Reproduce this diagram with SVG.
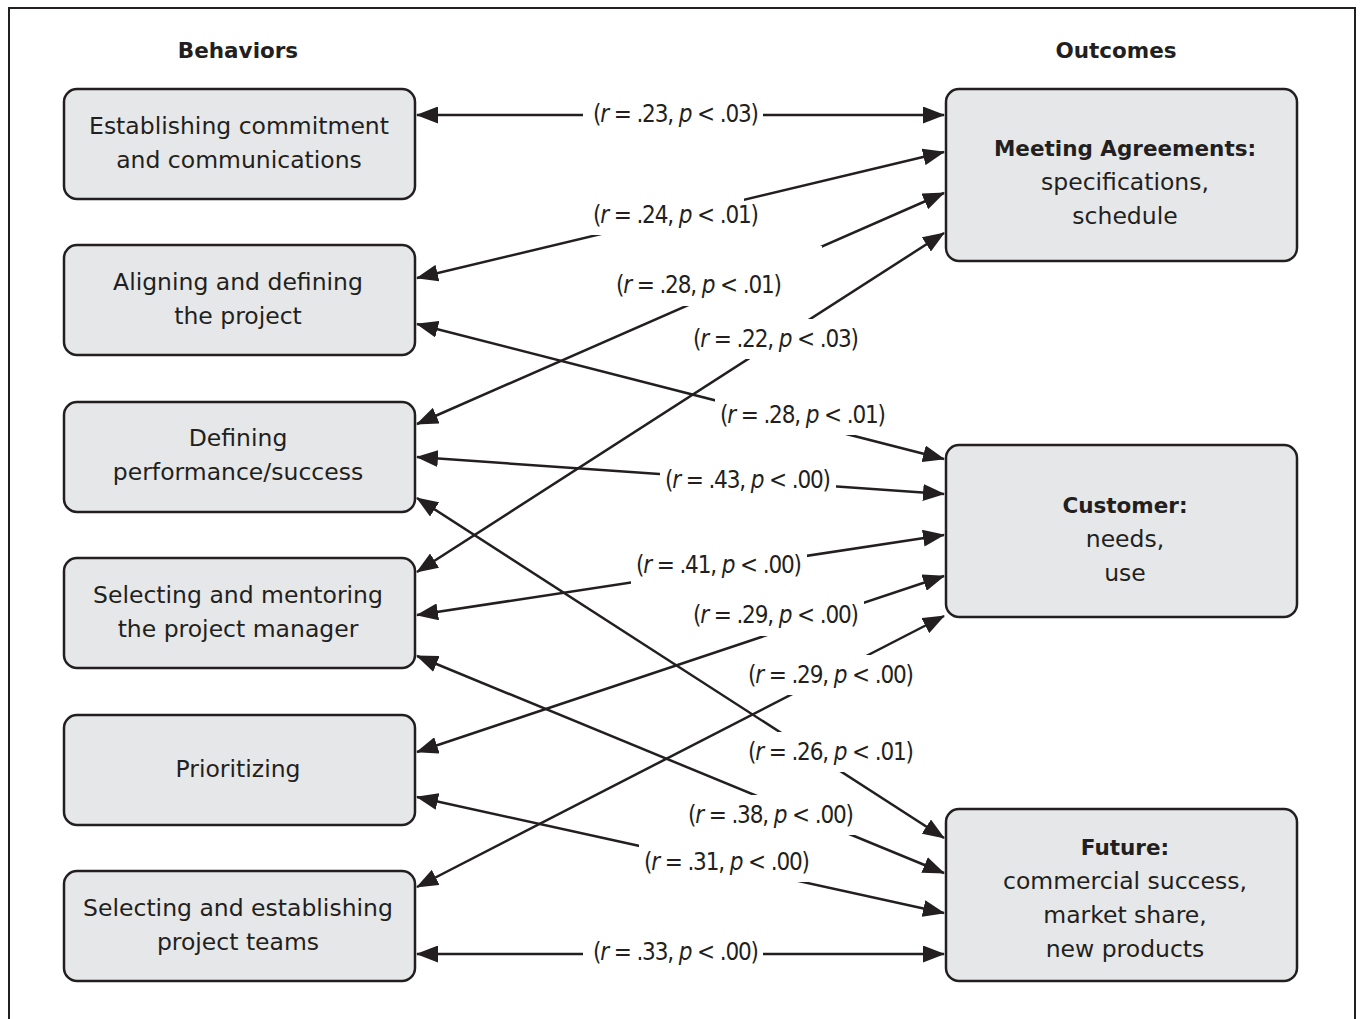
<svg xmlns="http://www.w3.org/2000/svg" width="1363" height="1019" viewBox="0 0 1363 1019">
<style>
.frame{fill:none;stroke:#231f20;stroke-width:2}
.box{fill:#e6e7e8;stroke:#231f20;stroke-width:2.5}
.t{font-family:"DejaVu Sans","Liberation Sans",sans-serif;font-size:23.5px;fill:#231f20;text-anchor:middle}
.b{font-family:"DejaVu Sans","Liberation Sans",sans-serif;font-size:21.5px;font-weight:bold;fill:#231f20;text-anchor:middle}
.c{stroke:#231f20;stroke-width:2.5;fill:none;marker-start:url(#ah);marker-end:url(#ah)}
.gap{fill:#ffffff}
.lab{font-family:"Liberation Sans Narrow","Arial Narrow","DejaVu Sans Condensed",sans-serif;font-stretch:condensed;font-size:24px;fill:#231f20;text-anchor:middle}
.i{font-style:italic}
</style>
<defs>
<marker id="ah" viewBox="0 0 22 17" refX="21" refY="8.5" markerWidth="22" markerHeight="17" markerUnits="userSpaceOnUse" orient="auto-start-reverse">
<path d="M0,0 L22,8.5 L0,17 z" fill="#231f20"/>
</marker>
</defs>
<rect width="1363" height="1019" fill="#ffffff"/>
<rect class="frame" x="9" y="8" width="1346" height="1030"/>
<text class="b" x="238" y="58">Behaviors</text>
<text class="b" x="1116" y="58">Outcomes</text>

<g id="connectors">
<line class="c" x1="417" y1="115" x2="944" y2="115"/>
<line class="c" x1="417" y1="278" x2="944" y2="152"/>
<line class="c" x1="417" y1="424" x2="944" y2="193"/>
<line class="c" x1="417" y1="572" x2="944" y2="233"/>
<line class="c" x1="417" y1="324" x2="944" y2="459"/>
<line class="c" x1="417" y1="457" x2="944" y2="494"/>
<line class="c" x1="417" y1="615" x2="944" y2="535"/>
<line class="c" x1="417" y1="752" x2="944" y2="576"/>
<line class="c" x1="417" y1="887" x2="944" y2="616"/>
<line class="c" x1="417" y1="498" x2="944" y2="838"/>
<line class="c" x1="417" y1="656" x2="944" y2="873"/>
<line class="c" x1="417" y1="797" x2="944" y2="913"/>
<line class="c" x1="417" y1="954" x2="944" y2="954"/>
<rect class="gap" x="583" y="94" width="180" height="40"/>
<rect class="gap" x="588" y="195" width="156" height="40"/>
<rect class="gap" x="611" y="246" width="211" height="60"/>
<rect class="gap" x="688" y="319" width="176" height="40"/>
<rect class="gap" x="715" y="395" width="176" height="40"/>
<rect class="gap" x="660" y="460" width="176" height="40"/>
<rect class="gap" x="631" y="545" width="176" height="40"/>
<rect class="gap" x="688" y="596" width="176" height="40"/>
<rect class="gap" x="743" y="655" width="176" height="40"/>
<rect class="gap" x="743" y="732" width="176" height="40"/>
<rect class="gap" x="683" y="795" width="176" height="40"/>
<rect class="gap" x="639" y="842" width="176" height="40"/>
<rect class="gap" x="583" y="932" width="180" height="40"/>
<text class="lab" x="676" y="122" textLength="166">(<tspan class="i">r</tspan> = .23, <tspan class="i">p</tspan> &lt; .03)</text>
<text class="lab" x="676" y="223" textLength="166">(<tspan class="i">r</tspan> = .24, <tspan class="i">p</tspan> &lt; .01)</text>
<text class="lab" x="699" y="293" textLength="166">(<tspan class="i">r</tspan> = .28, <tspan class="i">p</tspan> &lt; .01)</text>
<text class="lab" x="776" y="347" textLength="166">(<tspan class="i">r</tspan> = .22, <tspan class="i">p</tspan> &lt; .03)</text>
<text class="lab" x="803" y="423" textLength="166">(<tspan class="i">r</tspan> = .28, <tspan class="i">p</tspan> &lt; .01)</text>
<text class="lab" x="748" y="488" textLength="166">(<tspan class="i">r</tspan> = .43, <tspan class="i">p</tspan> &lt; .00)</text>
<text class="lab" x="719" y="573" textLength="166">(<tspan class="i">r</tspan> = .41, <tspan class="i">p</tspan> &lt; .00)</text>
<text class="lab" x="776" y="623" textLength="166">(<tspan class="i">r</tspan> = .29, <tspan class="i">p</tspan> &lt; .00)</text>
<text class="lab" x="831" y="683" textLength="166">(<tspan class="i">r</tspan> = .29, <tspan class="i">p</tspan> &lt; .00)</text>
<text class="lab" x="831" y="760" textLength="166">(<tspan class="i">r</tspan> = .26, <tspan class="i">p</tspan> &lt; .01)</text>
<text class="lab" x="771" y="823" textLength="166">(<tspan class="i">r</tspan> = .38, <tspan class="i">p</tspan> &lt; .00)</text>
<text class="lab" x="727" y="870" textLength="166">(<tspan class="i">r</tspan> = .31, <tspan class="i">p</tspan> &lt; .00)</text>
<text class="lab" x="676" y="960" textLength="166">(<tspan class="i">r</tspan> = .33, <tspan class="i">p</tspan> &lt; .00)</text>
</g>

<g id="b1"><rect class="box" x="64" y="89" width="351" height="110" rx="13"/>
<text class="t" x="239" y="134">Establishing commitment</text><text class="t" x="239" y="168">and communications</text></g>
<g id="b2"><rect class="box" x="64" y="245" width="351" height="110" rx="13"/>
<text class="t" x="238" y="290">Aligning and defining</text><text class="t" x="238" y="324">the project</text></g>
<g id="b3"><rect class="box" x="64" y="402" width="351" height="110" rx="13"/>
<text class="t" x="238" y="446">Defining</text><text class="t" x="238" y="480">performance/success</text></g>
<g id="b4"><rect class="box" x="64" y="558" width="351" height="110" rx="13"/>
<text class="t" x="238" y="603">Selecting and mentoring</text><text class="t" x="238" y="637">the project manager</text></g>
<g id="b5"><rect class="box" x="64" y="715" width="351" height="110" rx="13"/>
<text class="t" x="238" y="777">Prioritizing</text></g>
<g id="b6"><rect class="box" x="64" y="871" width="351" height="110" rx="13"/>
<text class="t" x="238" y="916">Selecting and establishing</text><text class="t" x="238" y="950">project teams</text></g>

<g id="o1"><rect class="box" x="946" y="89" width="351" height="172" rx="13"/>
<text class="b" x="1125" y="156">Meeting Agreements:</text><text class="t" x="1125" y="190">specifications,</text><text class="t" x="1125" y="224">schedule</text></g>
<g id="o2"><rect class="box" x="946" y="445" width="351" height="172" rx="13"/>
<text class="b" x="1125" y="513">Customer:</text><text class="t" x="1125" y="547">needs,</text><text class="t" x="1125" y="581">use</text></g>
<g id="o3"><rect class="box" x="946" y="809" width="351" height="172" rx="13"/>
<text class="b" x="1125" y="855">Future:</text><text class="t" x="1125" y="889">commercial success,</text><text class="t" x="1125" y="923">market share,</text><text class="t" x="1125" y="957">new products</text></g>
</svg>
